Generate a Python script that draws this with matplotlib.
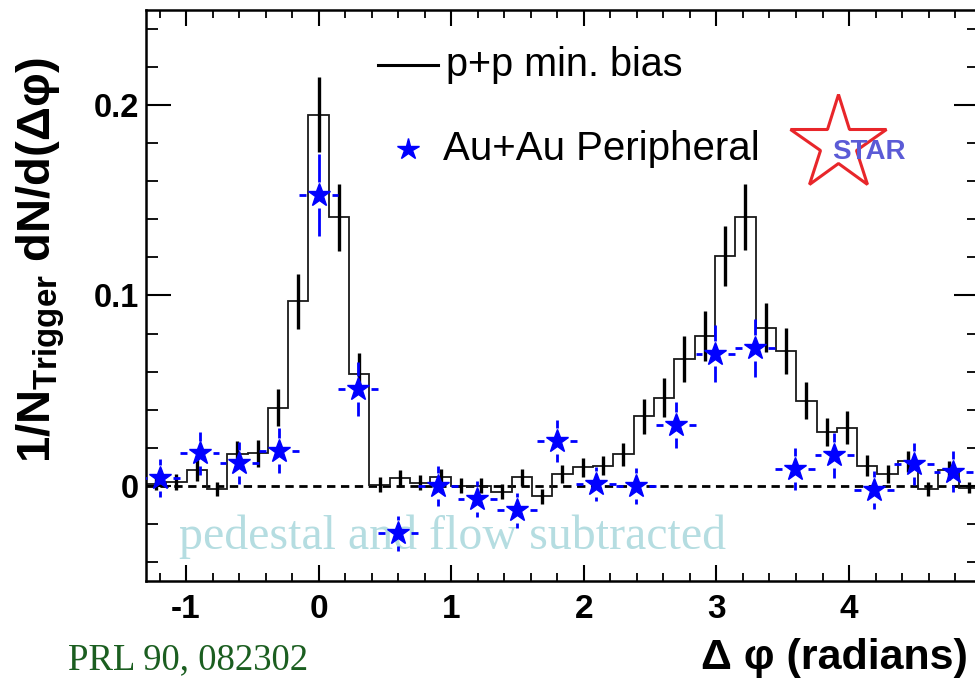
import numpy as np
import matplotlib
matplotlib.use("Agg")
import matplotlib.pyplot as plt
from matplotlib.ticker import MultipleLocator

# ---------------- data ----------------
# p+p min. bias histogram (41 bins over 2*pi, centred on 0)
pp_bin_width = 2 * np.pi / 41
pp_first_edge_index = -8.5
pp_values = [0.001, 0.002, 0.0084, -0.0017, 0.0166, 0.017, 0.041, 0.097,
             0.195, 0.141, 0.059, 0.0005, 0.004, 0.0017, 0.0044, 0.0, 0.0,
             -0.003, 0.0044, -0.0055, 0.0062, 0.0098, 0.0105, 0.0166, 0.0365,
             0.0464, 0.0667, 0.0787, 0.1207, 0.1412, 0.0831, 0.0709, 0.0447,
             0.0283, 0.0306, 0.0105, 0.0061, 0.0128, -0.0017, 0.0082, -0.001]
pp_errors = [0.003, 0.0044, 0.006, 0.0035, 0.007, 0.007, 0.0098, 0.0144,
             0.0197, 0.0175, 0.011, 0.004, 0.0045, 0.004, 0.0045, 0.004, 0.004,
             0.004, 0.0045, 0.004, 0.0045, 0.005, 0.005, 0.006, 0.0092, 0.010,
             0.012, 0.013, 0.0157, 0.0173, 0.013, 0.012, 0.0098, 0.0074, 0.0085,
             0.0055, 0.0048, 0.0057, 0.0035, 0.005, 0.003]

# Au+Au peripheral points
aa_x = [-1.197, -0.898, -0.598, -0.299, 0.0, 0.299, 0.598, 0.898, 1.197,
        1.496, 1.795, 2.094, 2.394, 2.693, 2.992, 3.291, 3.590, 3.890, 4.189,
        4.488, 4.787]
aa_y = [0.004, 0.017, 0.0122, 0.0184, 0.1528, 0.0508, -0.025, 0.0, -0.007,
        -0.0128, 0.0236, 0.0009, 0.0, 0.032, 0.0695, 0.0726, 0.0088, 0.0161,
        -0.0023, 0.0114, 0.0075]
aa_yerr = [0.010, 0.0114, 0.011, 0.0118, 0.0214, 0.014, 0.009, 0.0105, 0.0096,
           0.0092, 0.011, 0.009, 0.0095, 0.0122, 0.015, 0.0153, 0.011, 0.0118,
           0.010, 0.011, 0.011]
aa_xerr = np.pi / 21

x_ticks = [-1, 0, 1, 2, 3, 4]
x_ticklabels = ["-1", "0", "1", "2", "3", "4"]
y_ticks = [0.0, 0.1, 0.2]
y_ticklabels = ["0", "0.1", "0.2"]

legend_pp = "p+p min. bias"
legend_aa = "Au+Au Peripheral"
note_text = "pedestal and flow subtracted"
ref_text = "PRL 90, 082302"

# ---------------- style ----------------
plt.rcParams["font.family"] = ["Liberation Sans", "DejaVu Sans"]
plt.rcParams["mathtext.fontset"] = "custom"
plt.rcParams["mathtext.rm"] = "Liberation Sans:bold"
plt.rcParams["mathtext.it"] = "Liberation Sans:bold"
plt.rcParams["mathtext.bf"] = "Liberation Sans:bold"

W, H = 975, 688
fig = plt.figure(figsize=(W / 100, H / 100), dpi=100)
ax = fig.add_axes([146 / W, 1 - 581 / H, (979 - 146) / W, (581 - 10) / H])
ax.set_xlim(-1.302, 4.98)
ax.set_ylim(-0.05, 0.25)

for s in ax.spines.values():
    s.set_linewidth(1.8)

# zero line
ax.axhline(0, color="black", lw=2.0, ls=(0, (3, 2)), zorder=1)

# p+p histogram
n = len(pp_values)
edges = (np.arange(n + 1) + pp_first_edge_index) * pp_bin_width
centers = 0.5 * (edges[:-1] + edges[1:])
ax.stairs(pp_values, edges, color="#1a1a1a", lw=1.3, zorder=2)
ax.vlines(centers, np.array(pp_values) - np.array(pp_errors),
          np.array(pp_values) + np.array(pp_errors), color="black", lw=2.4, zorder=3)

# Au+Au error bars with gap around marker
gap_x = 0.098
gap_y = 0.0068
ax_arr = np.array(aa_x)
ay_arr = np.array(aa_y)
ae_arr = np.array(aa_yerr)
ax.hlines(ay_arr, ax_arr - aa_xerr, ax_arr - gap_x, color="blue", lw=2.0, zorder=4)
ax.hlines(ay_arr, ax_arr + gap_x, ax_arr + aa_xerr, color="blue", lw=2.0, zorder=4)
m = ae_arr > gap_y
ax.vlines(ax_arr[m], ay_arr[m] + gap_y, ay_arr[m] + ae_arr[m], color="blue", lw=2.0, zorder=4)
ax.vlines(ax_arr[m], ay_arr[m] - ae_arr[m], ay_arr[m] - gap_y, color="blue", lw=2.0, zorder=4)
ax.plot(aa_x, aa_y, ls="none", marker="*", ms=17, color="blue", mec="blue", zorder=5)

# ticks
ax.set_xticks(x_ticks)
ax.set_xticklabels(x_ticklabels)
ax.set_yticks(y_ticks)
ax.set_yticklabels(y_ticklabels)
ax.xaxis.set_minor_locator(MultipleLocator(0.2))
ax.yaxis.set_minor_locator(MultipleLocator(0.02))
ax.tick_params(axis="x", which="major", direction="in", length=11.5, width=1.5,
               top=True, labelsize=24, pad=9)
ax.tick_params(axis="x", which="minor", direction="in", length=5.8, width=1.3, top=True)
ax.tick_params(axis="y", which="major", direction="in", length=18, width=1.5,
               right=True, labelsize=23.5, pad=5)
ax.tick_params(axis="y", which="minor", direction="in", length=8.6, width=1.3, right=True)
for lab in ax.get_xticklabels() + ax.get_yticklabels():
    lab.set_fontweight("bold")

# legend (manual)
ax.plot([0.279, 0.350], [0.903, 0.903], transform=ax.transAxes, color="black", lw=2.2, clip_on=False)
ax.text(0.360, 0.903, legend_pp, transform=ax.transAxes, fontsize=28.5, va="center", ha="left")
ax.plot([0.315], [0.757], transform=ax.transAxes, marker="*", ms=16, color="blue", ls="none")
ax.text(0.357, 0.757, legend_aa, transform=ax.transAxes, fontsize=29, va="center", ha="left")

# STAR logo
ax.plot([0.831], [0.765], transform=ax.transAxes, marker="*", ms=72, mfc="none",
        mec="#e8262a", mew=2.2, ls="none")
ax.text(0.868, 0.752, "STAR", transform=ax.transAxes, fontsize=20, fontweight="bold",
        color="#5b5bd6", ha="center", va="center")

# annotation
ax.text(0.04, 0.056, note_text, transform=ax.transAxes, fontsize=34.5,
        family=["Liberation Serif", "DejaVu Serif"], color="#b5dde1", ha="left",
        va="baseline", zorder=0)

# axis labels
fig.text(41 / W, 1 - 260 / H, "$1/N_{Trigger}$ dN/d(Δφ)", rotation=90,
         fontsize=34, fontweight="bold", ha="center", va="center")
fig.text(968 / W, 1 - 658 / H, "Δ φ (radians)", fontsize=31, fontweight="bold",
         ha="right", va="center")
fig.text(68 / W, 1 - 660 / H, ref_text, fontsize=26.5,
         family=["Liberation Serif", "DejaVu Serif"], color="#1b5e20", ha="left", va="center")

fig.savefig("out.png", dpi=100)
